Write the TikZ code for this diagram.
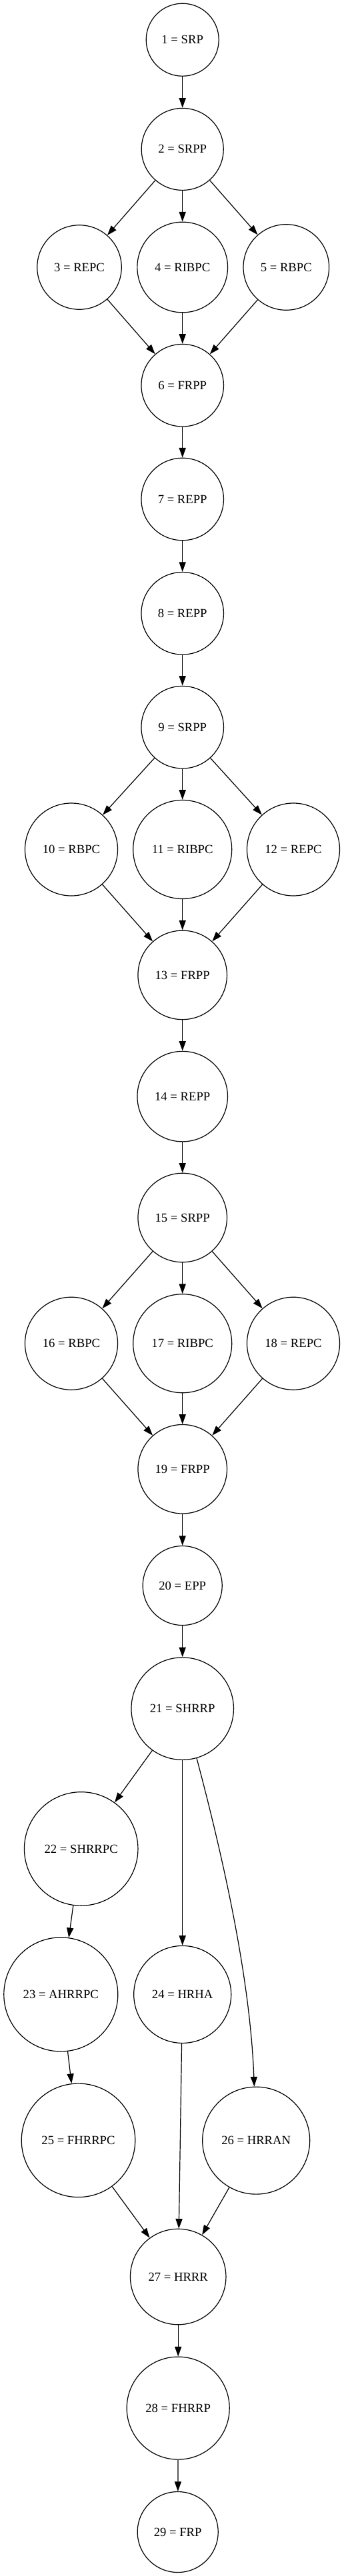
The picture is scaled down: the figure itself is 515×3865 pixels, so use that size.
\documentclass[tikz,border=0pt]{standalone}
\usepackage{fontspec}
\setmainfont{Liberation Serif}
\usetikzlibrary{arrows.meta}
\tikzset{
  >={Triangle[length=11pt,width=7.6pt]},
  st/.style={draw,circle,line width=0.9pt,inner sep=0pt,font=\fontsize{14}{16}\selectfont},
  arr/.style={->,line width=0.9pt},
}
\begin{document}
\begin{tikzpicture}[x=0.75pt,y=-0.75pt]
\useasboundingbox (0,0) rectangle (515,3865);
% steps: number / x / y / diameter / name
\foreach \n/\x/\y/\d/\t in {1/273.7/59.7/109/SRP,2/273.7/223.9/123/SRPP,
 3/119/401/126.5/REPC,4/273.7/401/135.7/RIBPC,5/429.3/401/128.6/RBPC,
 6/273.7/578.2/123.5/FRPP,7/273.7/749/123.5/REPP,8/273.7/920.3/123.5/REPP,9/273.7/1091.2/123.5/SRPP,
 10/107/1274.5/139/RBPC,11/273.7/1274.5/148/RIBPC,12/440/1274.5/139/REPC,
 13/273.7/1462.9/133.5/FRPP,14/273.7/1645.1/135.5/REPP,15/273.7/1827/133.5/SRPP,
 16/107/2015.7/139/RBPC,17/273.7/2015.7/148/RIBPC,18/440/2015.7/139/REPC,
 19/273.7/2204.2/133.5/FRPP,20/273.7/2379/119/EPP,21/273.7/2563.6/153.5/SHRRP,
 22/121.7/2773.9/170.5/SHRRPC,23/91.3/2992.4/171/AHRRPC,24/273.7/2992.4/146/HRHA,
 25/117.5/3211.3/170.5/FHRRPC,26/384.2/3211.6/161/HRRAN,
 27/267.2/3416/143.5/HRRR,28/267.2/3613.1/154/FHRRP,29/266.7/3799/121/FRP}
  \node[st,minimum size=\d*0.75pt] (p\n) at (\x,\y) {\n{} = \t};
% edges
\foreach \a/\b in {1/2,2/3,2/4,2/5,3/6,4/6,5/6,6/7,7/8,8/9,9/10,9/11,9/12,10/13,11/13,12/13,
 13/14,14/15,15/16,15/17,15/18,16/19,17/19,18/19,19/20,20/21,21/22,21/24,22/23,23/25,
 24/27,25/27,26/27,27/28,28/29}
  \draw[arr] (p\a) -- (p\b);
\draw[arr] (p21.-74) .. controls (330,2770) and (375,2960) .. (p26.92);
\end{tikzpicture}
\end{document}
